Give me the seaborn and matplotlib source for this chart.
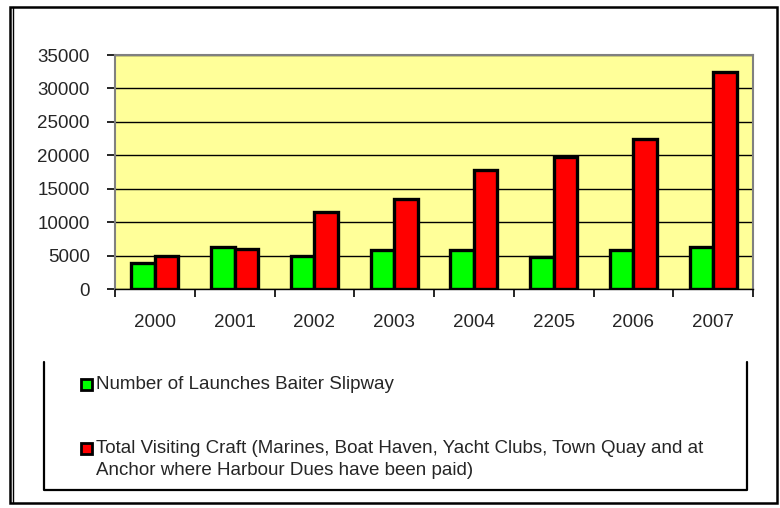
import matplotlib
matplotlib.use('Agg')
import matplotlib.pyplot as plt
from matplotlib.patches import Rectangle
from matplotlib.lines import Line2D
import seaborn as sns
import pandas as pd
import numpy as np

# datos
years = ['2000', '2001', '2002', '2003', '2004', '2205', '2006', '2007']
launches = [3900, 6300, 5000, 5800, 5800, 4800, 5800, 6300]
visiting = [5000, 6000, 11500, 13400, 17800, 19700, 22400, 32400]
series_names = ['Number of Launches Baiter Slipway',
                'Total Visiting Craft (Marines, Boat Haven, Yacht Clubs, Town Quay and at\n'
                'Anchor where Harbour Dues have been paid)']
colors = ['#00FF00', '#FF0000']
y_ticks = [0, 5000, 10000, 15000, 20000, 25000, 30000, 35000]


def main():
    df = pd.DataFrame({
        'year': years * 2,
        'count': launches + visiting,
        'series': [series_names[0]] * len(years) + [series_names[1]] * len(years),
    })

    sns.set_style('white')
    plt.rcParams['font.family'] = ['Liberation Sans', 'DejaVu Sans']

    W, H = 780, 508
    fig = plt.figure(figsize=(W / 100, H / 100), dpi=100)
    ax = fig.add_axes([115 / W, 1 - 289 / H, (753 - 115) / W, (289 - 55) / H])

    sns.barplot(data=df, x='year', y='count', hue='series', palette=colors,
                width=0.59, gap=0, edgecolor='black', linewidth=2.4,
                legend=False, ax=ax, saturation=1)

    ax.set_facecolor('#FFFF99')
    ax.set_axisbelow(True)
    ax.set_ylim(0, 35000)
    ax.set_xlim(-0.5, len(years) - 0.5)
    ax.set_yticks(y_ticks)
    ax.set_yticklabels([str(t) for t in y_ticks])
    ax.yaxis.grid(True, color='black', linewidth=1.0)
    ax.xaxis.grid(False)
    ax.set_xlabel('')
    ax.set_ylabel('')

    fs = 13.5
    ax.tick_params(axis='y', left=True, length=6, width=1.2, color='black',
                   pad=12, labelsize=fs)
    ax.tick_params(axis='x', bottom=False, length=0, pad=18, labelsize=fs)
    ax.set_xticks(np.arange(len(years) + 1) - 0.5, minor=True)
    ax.tick_params(axis='x', which='minor', bottom=True, length=6, width=1.2,
                   color='black')

    for s in ax.spines.values():
        s.set_color('#808080')
        s.set_linewidth(1.5)
    ax.spines['bottom'].set_color('black')
    ax.spines['bottom'].set_linewidth(1.0)

    # marco exterior
    fig.add_artist(Rectangle((10 / W, 1 - 503 / H), (777 - 10) / W, (503 - 7) / H,
                             transform=fig.transFigure, fill=False,
                             edgecolor='black', linewidth=1.8))
    fig.add_artist(Line2D([13 / W, 13 / W], [1 - 503 / H, 1 - 7 / H],
                          transform=fig.transFigure, color='black', linewidth=1.0))

    # caja de la leyenda (sin borde superior)
    lx0, lx1, ly0, ly1 = 44 / W, 747 / W, 1 - 362 / H, 1 - 490 / H
    fig.add_artist(Line2D([lx0, lx0, lx1, lx1], [ly0, ly1, ly1, ly0],
                          transform=fig.transFigure, color='black', linewidth=1.6))

    # entradas de la leyenda
    entry_y = [384, 448]
    for name, c, yy in zip(series_names, colors, entry_y):
        fig.add_artist(Rectangle((81 / W, 1 - (yy + 5.5) / H), 11 / W, 11 / H,
                                 transform=fig.transFigure, facecolor=c,
                                 edgecolor='black', linewidth=2.0))
        fig.text(96 / W, 1 - (yy - 8) / H, name, fontsize=fs, va='top',
                 ha='left', linespacing=1.35)

    fig.savefig('out.png', dpi=100)


if __name__ == '__main__':
    main()
